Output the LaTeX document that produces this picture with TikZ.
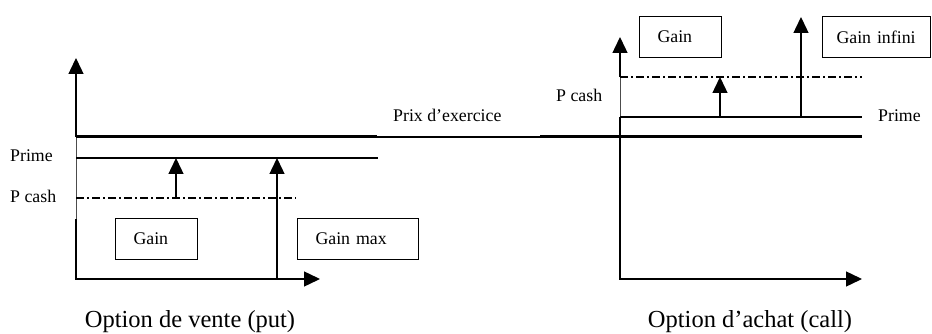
\documentclass[tikz,border=0pt]{standalone}
\usepackage{fontspec}
\setmainfont{Liberation Serif}
\usetikzlibrary{arrows.meta}
\tikzset{
  axis/.style={line width=1.4pt},
  thinline/.style={line width=0.7pt, draw=black!70},
  heavy/.style={line width=3pt},
  level/.style={line width=1.3pt},
  dashdot/.style={line width=1.3pt, dash pattern=on 8pt off 3pt on 2pt off 3pt},
  tip/.style={-{Triangle[length=16pt,width=15pt]}},
  lbl/.style={font=\fontsize{17.8}{20}\selectfont, inner sep=0pt, anchor=base west},
  captxt/.style={font=\fontsize{24.5}{28}\selectfont, inner sep=0pt, anchor=base},
  gbox/.style={draw, line width=1pt, font=\fontsize{17.8}{20}\selectfont, align=left,
     minimum height=41pt, inner xsep=18pt, inner ysep=0pt, anchor=north west},
}
\begin{document}
\begin{tikzpicture}[x=1pt,y=-1pt]
\useasboundingbox (0,0) rectangle (932,334);
% ---------- left chart (put) ----------
\coordinate (Lo) at (76,279);
\coordinate (Lxe) at (320,279);
\coordinate (Lyb) at (76,219);
\coordinate (Lys) at (76,137);
\coordinate (Lyt) at (76,58);
\coordinate (Lte) at (377,137);
\coordinate (Rts) at (540,137);
\coordinate (Rte) at (862,137);
\coordinate (Lps) at (76,158);
\coordinate (Lpe) at (378,158);
\coordinate (Lcs) at (76,198);
\coordinate (Lce) at (296,198);
\coordinate (La1) at (176,198);
\coordinate (La1t) at (176,158);
\coordinate (La2) at (277,279);
\coordinate (La2t) at (277,158);

\draw[axis, tip] (Lys) -- (Lyt);
\draw[thinline] (Lys) -- (Lyb);
\draw[axis, tip] (Lyb) -- (Lo) -- (Lxe);
\draw[heavy] (Lys) -- (Lte);
\draw[level] (Lte) -- (Rts);
\draw[heavy] (Rts) -- (Rte);
\draw[level] (Lps) -- (Lpe);
\draw[dashdot] (Lcs) -- (Lce);
\draw[axis, tip] (La1) -- (La1t);
\draw[axis, tip] (La2) -- (La2t);

\node[lbl] (lprime) at (10,162) {Prime};
\node[lbl] (lcash) at (10,202) {P cash};
\node[gbox, text width=46pt] (lgain) at (115,218) {Gain};
\node[gbox, text width=85pt] (lgainmax) at (297,218) {Gain max};
\node[lbl] (prix) at (393,122) {Prix d’exercice};
\node[captxt] (put) at (190,327) {Option de vente (put)};

% ---------- right chart (call) ----------
\coordinate (Ro) at (620,279);
\coordinate (Rxe) at (862,279);
\coordinate (Ryp) at (620,117);
\coordinate (Ryc) at (620,77);
\coordinate (Ryt) at (620,37);
\coordinate (Rpe) at (862,117);
\coordinate (Rce) at (862,77);
\coordinate (Ra1) at (720,117);
\coordinate (Ra1t) at (720,77);
\coordinate (Ra2) at (801,117);
\coordinate (Ra2t) at (801,17);

\draw[axis, tip] (Ryp) -- (Ro) -- (Rxe);
\draw[thinline] (Ryp) -- (Ryc);
\draw[axis, tip] (Ryc) -- (Ryt);
\draw[level] (Ryp) -- (Rpe);
\draw[dashdot] (Ryc) -- (Rce);
\draw[axis, tip] (Ra1) -- (Ra1t);
\draw[axis, tip] (Ra2) -- (Ra2t);

\node[lbl] (rcash) at (556,102) {P cash};
\node[lbl] (rprime) at (878,122) {Prime};
\node[gbox, text width=46pt] (rgain) at (639,16) {Gain};
\node[gbox, text width=80pt, inner xsep=14pt] (rgaininf) at (822,16) {Gain infini};
\node[captxt] (call) at (750,327) {Option d’achat (call)};
\end{tikzpicture}
\end{document}
